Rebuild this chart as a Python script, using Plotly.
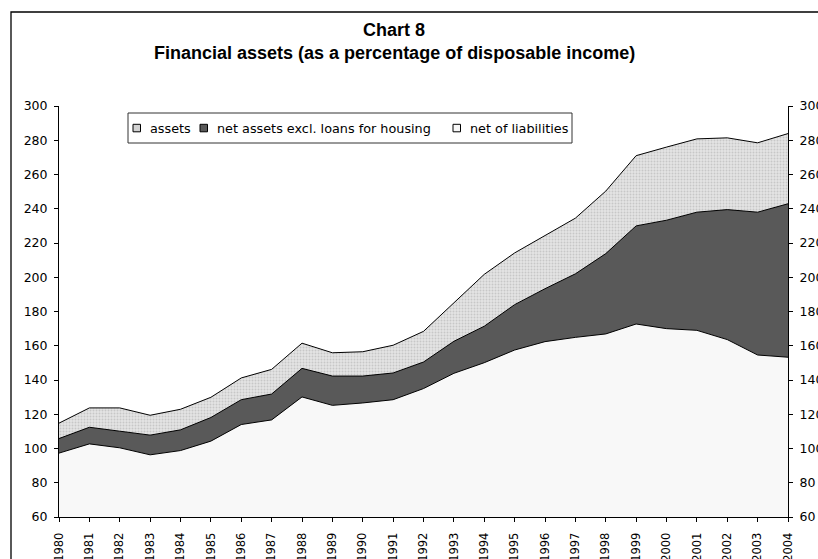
import plotly.graph_objects as go

# ---- data -------------------------------------------------------------
years = list(range(1980, 2005))
year_labels = [str(y) for y in years]

assets = [114.8, 123.7, 123.7, 119.4, 122.9, 129.9, 141.2, 146.2, 161.5, 155.9,
          156.5, 160.3, 168.4, 185.2, 201.7, 214.2, 224.5, 234.5, 250.3, 271.0,
          276.0, 280.8, 281.4, 278.5, 283.9]
net_excl_housing = [105.8, 112.4, 110.1, 107.8, 110.9, 118.1, 128.5, 131.8, 146.8, 142.3,
                    142.3, 144.1, 150.5, 162.6, 171.4, 184.0, 193.3, 202.0, 213.8, 230.0,
                    233.3, 238.0, 239.5, 238.0, 242.9]
net_of_liabilities = [97.3, 102.7, 100.4, 96.3, 98.8, 104.3, 114.0, 116.7, 130.1, 125.2,
                      126.6, 128.5, 135.0, 143.9, 150.1, 157.5, 162.4, 164.9, 166.9, 172.7,
                      170.0, 169.0, 163.6, 154.6, 153.3]

series_names = ["assets", "net assets excl. loans for housing", "net of liabilities"]
y_ticks = list(range(60, 301, 20))

title_line1 = "Chart 8"
title_line2 = "Financial assets (as a percentage of disposable income)"

# ---- layout geometry (pixels) ----------------------------------------
W, H = 818, 559
L, R, T, B = 59, 30, 106, 42
PW, PH = W - L - R, H - T - B


def px_x(px):
    return (px - L) / PW


def px_y(py):
    return (H - B - py) / PH


FONT = "DejaVu Sans, Verdana, Arial, sans-serif"
TITLE_FONT = "Liberation Sans, Arial, sans-serif"

line_style = dict(color="black", width=1)

fig = go.Figure()
fig.add_trace(go.Scatter(
    x=years, y=assets, name=series_names[0], mode="lines", line=line_style,
    fill="tozeroy", fillcolor="#dedede",
    fillpattern=dict(shape=".", fgcolor="#a9a9a9", bgcolor="#e4e4e4", size=3, solidity=0.35),
    showlegend=False, hoverinfo="skip"))
fig.add_trace(go.Scatter(
    x=years, y=net_excl_housing, name=series_names[1], mode="lines", line=line_style,
    fill="tozeroy", fillcolor="#595959", showlegend=False, hoverinfo="skip"))
fig.add_trace(go.Scatter(
    x=years, y=net_of_liabilities, name=series_names[2], mode="lines", line=line_style,
    fill="tozeroy", fillcolor="#f8f8f8", showlegend=False, hoverinfo="skip"))
# invisible companion trace so the right-hand value axis is drawn
fig.add_trace(go.Scatter(x=years, y=assets, mode="none", yaxis="y2",
                         showlegend=False, hoverinfo="skip"))

axis_font = dict(family=FONT, size=12.5, color="black")
yaxis_common = dict(
    range=[60, 300], tickmode="array", tickvals=y_ticks, ticktext=[str(v) for v in y_ticks],
    showgrid=False, zeroline=False, showline=True, linecolor="black", linewidth=1,
    ticks="outside", ticklen=4, tickcolor="black", tickfont=axis_font,
    ticklabelstandoff=4, fixedrange=True)

fig.update_layout(
    width=W, height=H, autosize=False,
    margin=dict(l=L, r=R, t=T, b=B, pad=0),
    paper_bgcolor="white", plot_bgcolor="white",
    xaxis=dict(range=[years[0], years[-1]], tickmode="array", tickvals=years,
               ticktext=year_labels, tickangle=-90, showgrid=False, zeroline=False,
               showline=True, linecolor="black", linewidth=1, ticks="outside",
               ticklen=4, tickcolor="black",
               tickfont=dict(family=FONT, size=11.5, color="black"),
               ticklabelstandoff=6, automargin=False),
    yaxis=dict(side="left", automargin=False, **yaxis_common),
    yaxis2=dict(side="right", overlaying="y", automargin=False, **yaxis_common),
    showlegend=False,
)

shapes = []
annotations = []

# outer chart frame
shapes.append(dict(type="rect", xref="paper", yref="paper",
                   x0=px_x(11), x1=px_x(840), y0=px_y(580), y1=px_y(12),
                   line=dict(color="black", width=1.3), fillcolor="rgba(0,0,0,0)",
                   layer="above"))

# title
annotations.append(dict(text=f"<b>{title_line1}</b>", xref="paper", yref="paper",
                        x=px_x(394), y=px_y(30), xanchor="center", yanchor="middle",
                        showarrow=False, font=dict(family=TITLE_FONT, size=18, color="black")))
annotations.append(dict(text=f"<b>{title_line2}</b>", xref="paper", yref="paper",
                        x=px_x(394), y=px_y(52.5), xanchor="center", yanchor="middle",
                        showarrow=False, font=dict(family=TITLE_FONT, size=18, color="black")))

# legend box
shapes.append(dict(type="rect", xref="paper", yref="paper",
                   x0=px_x(128), x1=px_x(572), y0=px_y(143), y1=px_y(113),
                   line=dict(color="#333333", width=1), fillcolor="white", layer="above"))
legend_text_x = [147.5, 214.5, 467.5]
legend_fill = ["#d2d2d2", "#595959", "#f8f8f8"]
legend_y = 128
for name, tx, fc in zip(series_names, legend_text_x, legend_fill):
    shapes.append(dict(type="rect", xref="paper", yref="paper",
                       x0=px_x(tx - 14.5), x1=px_x(tx - 7), y0=px_y(legend_y + 3.8),
                       y1=px_y(legend_y - 3.7),
                       line=dict(color="black", width=1), fillcolor=fc, layer="above"))
    annotations.append(dict(text=name, xref="paper", yref="paper",
                            x=px_x(tx), y=px_y(legend_y), xanchor="left", yanchor="middle",
                            showarrow=False,
                            font=dict(family=FONT, size=12.8, color="black")))

fig.update_layout(shapes=shapes, annotations=annotations)

fig.write_html("out.html", config={"displayModeBar": False})
